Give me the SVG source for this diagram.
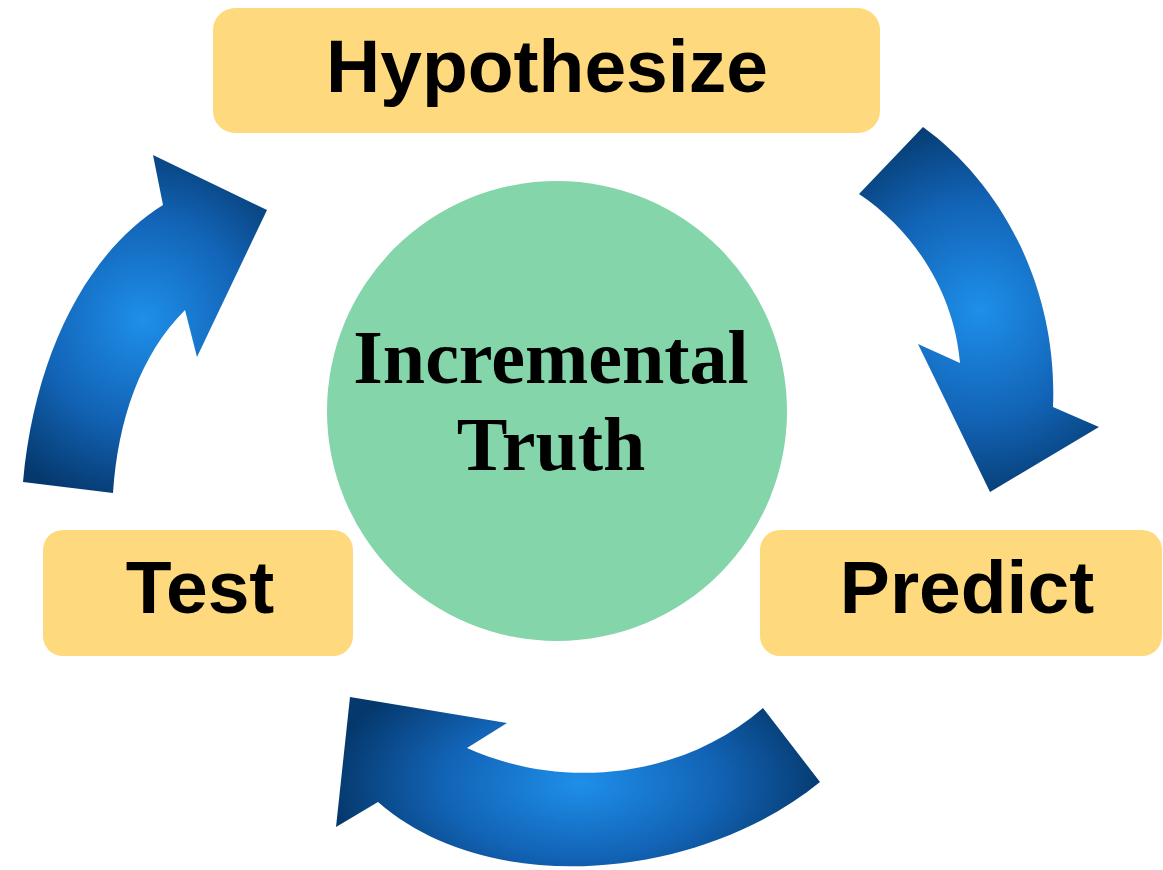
<svg xmlns="http://www.w3.org/2000/svg" width="1163" height="870" viewBox="0 0 1163 870">
<style>
.box{fill:#FFD97E;}
.lbl{font-family:"Liberation Sans",Arial,sans-serif;font-weight:bold;font-size:75px;fill:#000;text-anchor:middle;}
.core{font-family:"Liberation Serif","Times New Roman",serif;font-weight:bold;font-size:76px;fill:#000;text-anchor:middle;}
</style>
<defs>
<radialGradient id="gR" gradientUnits="userSpaceOnUse" cx="980" cy="310" r="200">
<stop offset="0" stop-color="#1E8FEA"/><stop offset="0.55" stop-color="#1263B5"/><stop offset="1" stop-color="#05386C"/>
</radialGradient>
<radialGradient id="gL" gradientUnits="userSpaceOnUse" cx="143" cy="320" r="190">
<stop offset="0" stop-color="#1E8FEA"/><stop offset="0.55" stop-color="#1263B5"/><stop offset="1" stop-color="#05386C"/>
</radialGradient>
<radialGradient id="gB" gradientUnits="userSpaceOnUse" cx="580" cy="783" r="250" gradientTransform="translate(580 783) scale(1 0.55) translate(-580 -783)">
<stop offset="0" stop-color="#1E8FEA"/><stop offset="0.55" stop-color="#1263B5"/><stop offset="1" stop-color="#05386C"/>
</radialGradient>
</defs>
<rect width="1163" height="870" fill="#FFFFFF"/>
<g id="connectors">
<path id="arrow-hyp-predict" fill="url(#gR)" d="M923,127 C1003,185 1058,290 1053,407 L1099,427 L990,492 L918,344 L960,363 C955,300 920,235 859,194 Z"/>
<path id="arrow-predict-test" fill="url(#gB)" d="M763,708 L820,782 C700,880 490,900 378,802 L336,827 L350,697 L507,723 L467,748 C560,790 680,780 763,708 Z"/>
<path id="arrow-test-hyp" fill="url(#gL)" d="M23,482 L113,493 C118,420 140,355 185,310 L197,357 L267,210 L153,155 L163,205 C90,250 35,350 23,482 Z"/>
</g>
<g id="core">
<circle cx="557" cy="411" r="230" fill="#84D5A9"/>
<text class="core" x="551" y="383">Incremental</text>
<text class="core" x="551" y="470">Truth</text>
</g>
<g id="hypothesize">
<rect class="box" x="213" y="8" width="667" height="125" rx="22"/>
<text class="lbl" x="547" y="92">Hypothesize</text>
</g>
<g id="test">
<rect class="box" x="43" y="530" width="310" height="126" rx="20"/>
<text class="lbl" x="200" y="613">Test</text>
</g>
<g id="predict">
<rect class="box" x="760" y="530" width="402" height="126" rx="20"/>
<text class="lbl" x="967" y="613">Predict</text>
</g>
</svg>
